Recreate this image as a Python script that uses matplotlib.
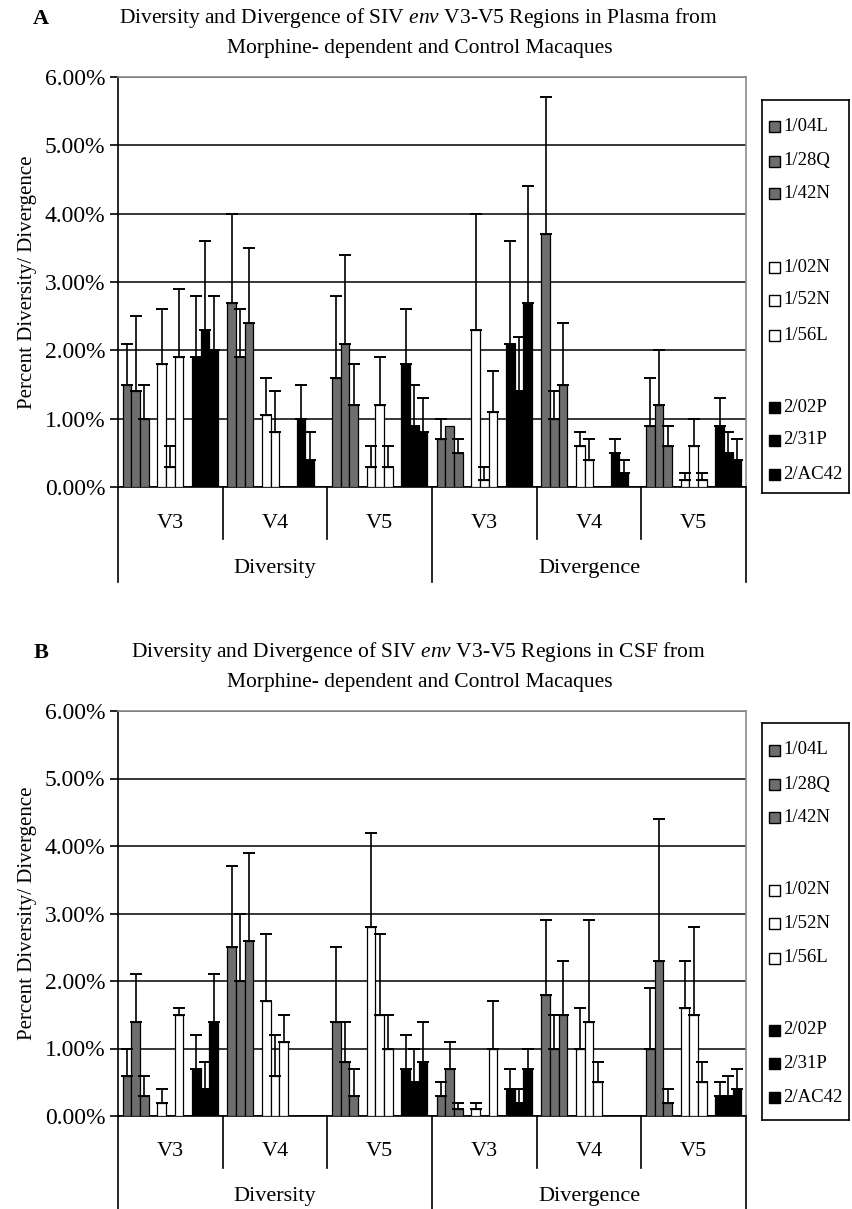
import numpy as np
import matplotlib
matplotlib.use('Agg')
import matplotlib.pyplot as plt
from matplotlib.patches import Rectangle
import matplotlib.transforms as mtransforms

plt.rcParams['font.family'] = ['Liberation Serif', 'DejaVu Serif']
plt.rcParams['mathtext.fontset'] = 'custom'
plt.rcParams['mathtext.rm'] = 'Liberation Serif'
plt.rcParams['mathtext.it'] = 'Liberation Serif:italic'

# ---------------- data ----------------
regions = ['V3', 'V4', 'V5', 'V3', 'V4', 'V5']
measures = ['Diversity', 'Divergence']
animals = ['1/04L', '1/28Q', '1/42N', '1/02N', '1/52N', '1/56L', '2/02P', '2/31P', '2/AC42']
yticklabels = ['0.00%', '1.00%', '2.00%', '3.00%', '4.00%', '5.00%', '6.00%']

# mean values (%) per animal, columns = Diversity V3,V4,V5, Divergence V3,V4,V5
plasma_mean = [
    [1.5, 2.7, 1.6, 0.7, 3.7, 0.9],
    [1.4, 1.9, 2.1, 0.9, 1.0, 1.2],
    [1.0, 2.4, 1.2, 0.5, 1.5, 0.6],
    [1.8, 1.05, 0.3, 2.3, 0.6, 0.1],
    [0.3, 0.8, 1.2, 0.1, 0.4, 0.6],
    [1.9, 0.0, 0.3, 1.1, 0.0, 0.1],
    [1.9, 1.0, 1.8, 2.1, 0.5, 0.9],
    [2.3, 0.4, 0.9, 1.4, 0.2, 0.5],
    [2.0, 0.0, 0.8, 2.7, 0.0, 0.4],
]
# top of the error bar (%); nan = no error bar
plasma_upper = [
    [2.1, 4.0, 2.8, 1.0, 5.7, 1.6],
    [2.5, 2.6, 3.4, np.nan, 1.4, 2.0],
    [1.5, 3.5, 1.8, 0.7, 2.4, 0.9],
    [2.6, 1.6, 0.6, 4.0, 0.8, 0.2],
    [0.6, 1.4, 1.9, 0.3, 0.7, 1.0],
    [2.9, np.nan, 0.6, 1.7, np.nan, 0.2],
    [2.8, 1.5, 2.6, 3.6, 0.7, 1.3],
    [3.6, 0.8, 1.5, 2.2, 0.4, 0.8],
    [2.8, np.nan, 1.3, 4.4, np.nan, 0.7],
]
csf_mean = [
    [0.6, 2.5, 1.4, 0.3, 1.8, 1.0],
    [1.4, 2.0, 0.8, 0.7, 1.0, 2.3],
    [0.3, 2.6, 0.3, 0.1, 1.5, 0.2],
    [0.2, 1.7, 2.8, 0.1, 1.0, 1.6],
    [0.0, 0.6, 1.5, 0.0, 1.4, 1.5],
    [1.5, 1.1, 1.0, 1.0, 0.5, 0.5],
    [0.7, 0.0, 0.7, 0.4, 0.0, 0.3],
    [0.4, 0.0, 0.5, 0.2, 0.0, 0.3],
    [1.4, 0.0, 0.8, 0.7, 0.0, 0.4],
]
csf_upper = [
    [1.0, 3.7, 2.5, 0.5, 2.9, 1.9],
    [2.1, 3.0, 1.4, 1.1, 1.5, 4.4],
    [0.6, 3.9, 0.7, 0.2, 2.3, 0.4],
    [0.4, 2.7, 4.2, 0.2, 1.6, 2.3],
    [np.nan, 1.2, 2.7, np.nan, 2.9, 2.8],
    [1.6, 1.5, 1.5, 1.7, 0.8, 0.8],
    [1.2, np.nan, 1.2, 0.7, np.nan, 0.5],
    [0.8, np.nan, 1.0, 0.4, np.nan, 0.6],
    [2.1, np.nan, 1.4, 1.0, np.nan, 0.7],
]

GRAY = '#6e6e6e'
fills = [GRAY] * 3 + ['white'] * 3 + ['black'] * 3
slots = [0, 1, 2, 4, 5, 6, 8, 9, 10]

W, H = 852, 1209
fig = plt.figure(figsize=(W / 100, H / 100), dpi=100)


def fx(x):
    return x / W


def fy(y):
    return 1 - y / H


def draw_panel(top, bottom, mean, upper, letter, title1, ytitle, legend_top, legend_bottom):
    left, right = 118, 746
    hpx = bottom - top
    ax = fig.add_axes([fx(left), fy(bottom), fx(right) - fx(left), (bottom - top) / H])
    n = len(regions)
    x0 = np.arange(n)
    w = 1.0 / (11 + 1.1)
    for i, name in enumerate(animals):
        xs = x0 + (slots[i] - 5) * w
        m = np.array(mean[i], dtype=float) / 100
        u = np.array(upper[i], dtype=float) / 100
        ax.bar(xs, m, width=w, color=fills[i], edgecolor='black', linewidth=0.9, zorder=3)
        ok = ~np.isnan(u) & (m > 0)
        ax.errorbar(xs[ok], m[ok], yerr=[np.zeros(ok.sum()), (u - m)[ok]], fmt='none',
                    ecolor='black', elinewidth=1.2, capsize=4, capthick=1.4, zorder=4)
    ax.set_xlim(-0.5, n - 0.5)
    ax.set_ylim(0, 0.06)
    ax.set_yticks(np.arange(7) / 100)
    ax.set_yticklabels(yticklabels)
    ax.set_xticks([])
    ax.yaxis.grid(True, color='#262626', linewidth=1.3)
    ax.set_axisbelow(True)
    ax.tick_params(axis='y', direction='out', length=6, width=1.2, labelsize=17, pad=3)
    for s in ['left', 'bottom']:
        ax.spines[s].set_color('black')
        ax.spines[s].set_linewidth(1.2)
    for s in ['top', 'right']:
        ax.spines[s].set_color('#8c8c8c')
        ax.spines[s].set_linewidth(1.2)
    ax.set_ylabel(ytitle, fontsize=15, labelpad=6)
    trans = mtransforms.blended_transform_factory(ax.transData, ax.transAxes)
    for b in np.arange(n + 1) - 0.5:
        outer = b in (-0.5, 2.5, 5.5)
        depth = 95 if outer else 52
        ax.plot([b, b], [0, -depth / hpx], color='black', lw=1.2, transform=trans, clip_on=False)
    for i, r in enumerate(regions):
        ax.text(i, -36 / hpx, r, ha='center', va='center', fontsize=16, transform=trans)
    for j, mname in enumerate(measures):
        ax.text(1 + 3 * j, -81 / hpx, mname, ha='center', va='center', fontsize=16, transform=trans)

    # title
    fig.text(fx(418), fy(top - 59), title1, ha='center', va='center', fontsize=15.5)
    fig.text(fx(420), fy(top - 29), 'Morphine- dependent and Control Macaques',
             ha='center', va='center', fontsize=15.5)
    fig.text(fx(41), fy(top - 58), letter, ha='center', va='center', fontsize=16, fontweight='bold')

    # legend
    lx0, lx1 = 762, 849
    lax = fig.add_axes([fx(lx0), fy(legend_bottom), fx(lx1) - fx(lx0), (legend_bottom - legend_top) / H])
    lax.set_xlim(lx0, lx1)
    lax.set_ylim(legend_bottom, legend_top)
    lax.set_xticks([])
    lax.set_yticks([])
    for s in lax.spines.values():
        s.set_linewidth(1.2)
        s.set_color('black')
    ypos = [27, 61, 94, 167, 200, 235, 307, 340, 374]
    for i, name in enumerate(animals):
        yy = legend_top + ypos[i]
        lax.add_patch(Rectangle((769, yy - 5.5), 11, 11, facecolor=fills[i], edgecolor='black', lw=1.0))
        lax.text(783, yy, name, ha='left', va='center', fontsize=13.5)
    return ax


draw_panel(77, 487, plasma_mean, plasma_upper, 'A',
           'Diversity and Divergence of SIV $\\mathit{env}$ V3-V5 Regions in Plasma from',
           'Percent Diversity/ Divergence', 100, 493)
draw_panel(711, 1116, csf_mean, csf_upper, 'B',
           'Diversity and Divergence of SIV $\\mathit{env}$ V3-V5 Regions in CSF from',
           'Percent Diversity/ Divergence', 723, 1120)

fig.savefig('out.png', dpi=100)
